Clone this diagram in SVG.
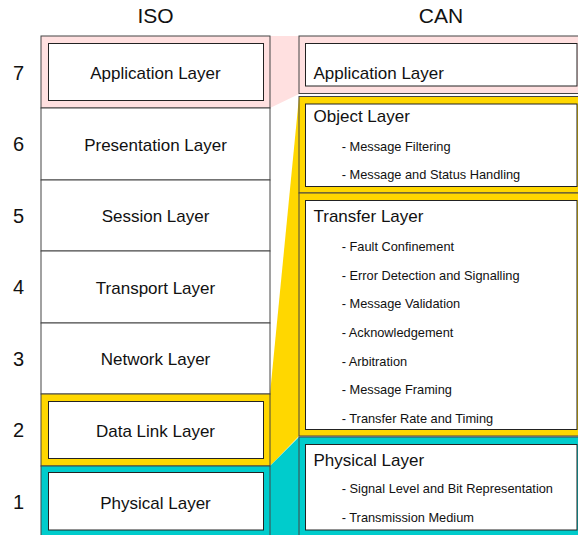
<svg xmlns="http://www.w3.org/2000/svg" width="578" height="535" viewBox="0 0 578 535">
  <style>
    .outer { stroke: #444; stroke-width: 1; }
    .inner { fill: #fff; stroke: #222; stroke-width: 1; }
    .pink { fill: #FFE0E0; }
    .yellow { fill: #FFD700; }
    .cyan { fill: #00CCCC; }
    .plain { fill: #fff; }
    text { font-family: "Liberation Sans", Arial, sans-serif; fill: #111; }
    .head { font-size: 21px; text-anchor: middle; }
    .num { font-size: 20px; text-anchor: middle; }
    .iso { font-size: 17px; text-anchor: middle; }
    .title { font-size: 17px; }
    .item { font-size: 12.8px; }
  </style>

  <!-- column headings -->
  <text class="head" x="155.5" y="22.5">ISO</text>
  <text class="head" x="441" y="22.5">CAN</text>

  <!-- layer numbers -->
  <g id="numbers">
    <text class="num" x="18.5" y="79.5">7</text>
    <text class="num" x="18.5" y="151">6</text>
    <text class="num" x="18.5" y="222.5">5</text>
    <text class="num" x="18.5" y="294">4</text>
    <text class="num" x="18.5" y="365.5">3</text>
    <text class="num" x="18.5" y="437">2</text>
    <text class="num" x="18.5" y="508.5">1</text>
  </g>

  <!-- mapping bands between the two stacks -->
  <g id="connectors">
    <polygon class="pink" points="270,36 299,36 299,94 270,108"/>
    <polygon class="yellow" points="270,394 299,97 299,436 270,466"/>
    <polygon class="cyan" points="270,466 299,437 299,540 270,540"/>
  </g>

  <!-- ISO stack -->
  <g id="iso-7">
    <rect class="outer pink" x="41" y="36" width="229" height="72"/>
    <rect class="inner" x="48.5" y="43.5" width="215" height="57"/>
    <text class="iso" x="155.5" y="79">Application Layer</text>
  </g>
  <g id="iso-6">
    <rect class="outer plain" x="41" y="108" width="229" height="72"/>
    <text class="iso" x="155.5" y="150.5">Presentation Layer</text>
  </g>
  <g id="iso-5">
    <rect class="outer plain" x="41" y="180" width="229" height="71"/>
    <text class="iso" x="155.5" y="222">Session Layer</text>
  </g>
  <g id="iso-4">
    <rect class="outer plain" x="41" y="251" width="229" height="72"/>
    <text class="iso" x="155.5" y="293.5">Transport Layer</text>
  </g>
  <g id="iso-3">
    <rect class="outer plain" x="41" y="323" width="229" height="71"/>
    <text class="iso" x="155.5" y="365">Network Layer</text>
  </g>
  <g id="iso-2">
    <rect class="outer yellow" x="41" y="394" width="229" height="72"/>
    <rect class="inner" x="48.5" y="401.5" width="215" height="57"/>
    <text class="iso" x="155.5" y="437">Data Link Layer</text>
  </g>
  <g id="iso-1">
    <rect class="outer cyan" x="41" y="466" width="229" height="76"/>
    <rect class="inner" x="48.5" y="472.5" width="215" height="57.5"/>
    <text class="iso" x="155.5" y="508.5">Physical Layer</text>
  </g>

  <!-- CAN stack -->
  <g id="can-application">
    <rect class="outer pink" x="299" y="36" width="284" height="57.5"/>
    <rect class="inner" x="305.5" y="43.5" width="271.5" height="42.5"/>
    <text class="title" x="313.5" y="79.3">Application Layer</text>
  </g>
  <g id="can-object">
    <rect class="outer yellow" x="299" y="96.5" width="284" height="96.5"/>
    <rect class="inner" x="305.5" y="104" width="271.5" height="82.5"/>
    <text class="title" x="313.5" y="121.7">Object Layer</text>
    <text class="item" x="341.7" y="150.7">- Message Filtering</text>
    <text class="item" x="341.7" y="178.7">- Message and Status Handling</text>
  </g>
  <g id="can-transfer">
    <rect class="outer yellow" x="299" y="193" width="284" height="243"/>
    <rect class="inner" x="305.5" y="200.5" width="271.5" height="229"/>
    <text class="title" x="313.5" y="221.7">Transfer Layer</text>
    <text class="item" x="341.7" y="251">- Fault Confinement</text>
    <text class="item" x="341.7" y="279.7">- Error Detection and Signalling</text>
    <text class="item" x="341.7" y="308.3">- Message Validation</text>
    <text class="item" x="341.7" y="336.9">- Acknowledgement</text>
    <text class="item" x="341.7" y="365.5">- Arbitration</text>
    <text class="item" x="341.7" y="394.1">- Message Framing</text>
    <text class="item" x="341.7" y="422.7">- Transfer Rate and Timing</text>
  </g>
  <g id="can-physical">
    <rect class="outer cyan" x="299" y="437" width="284" height="105"/>
    <rect class="inner" x="305.5" y="444.5" width="271.5" height="85.5"/>
    <text class="title" x="313.5" y="466">Physical Layer</text>
    <text class="item" x="341.7" y="493.3">- Signal Level and Bit Representation</text>
    <text class="item" x="341.7" y="521.7">- Transmission Medium</text>
  </g>
</svg>
